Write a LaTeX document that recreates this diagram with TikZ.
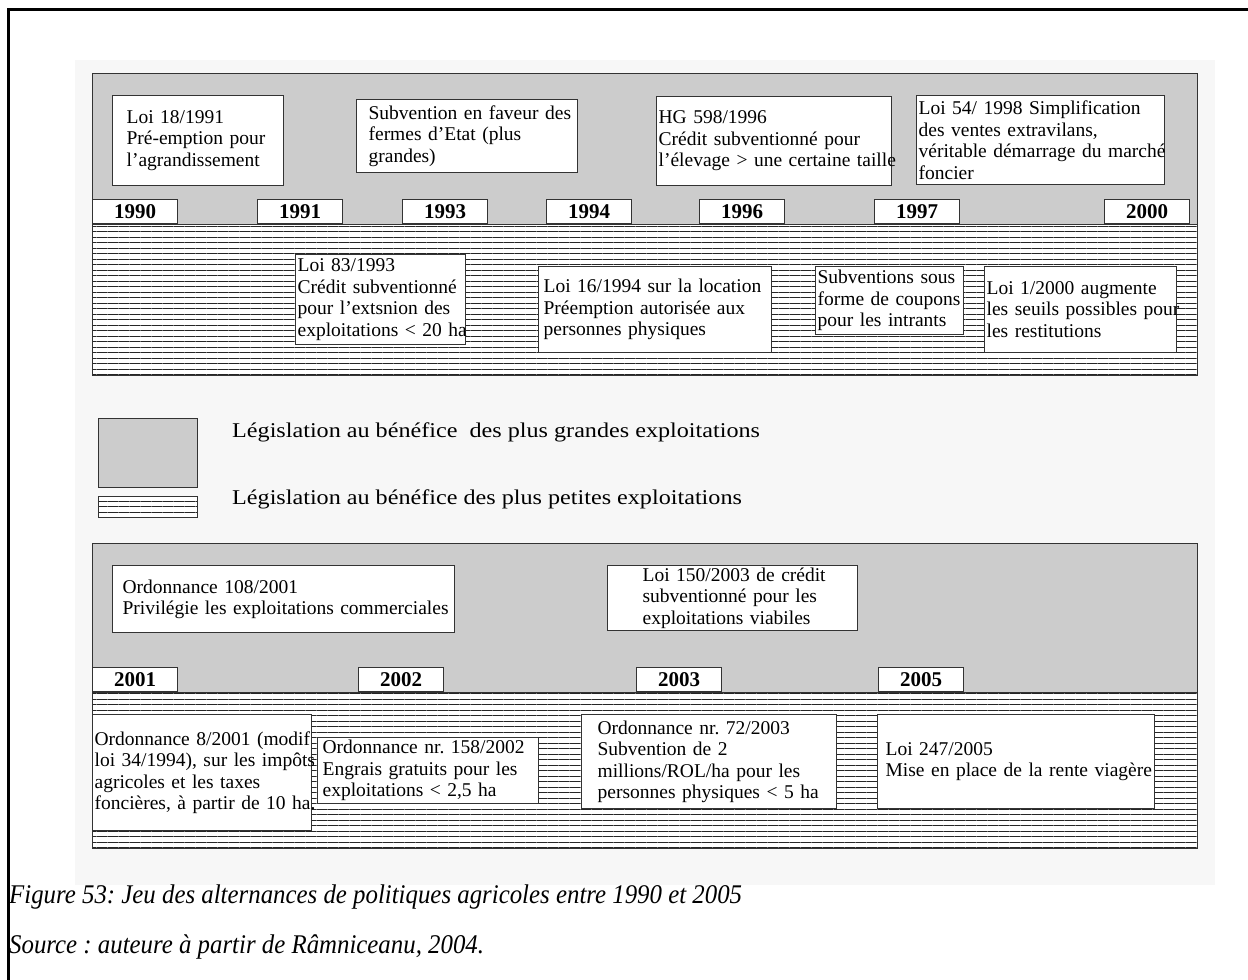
\documentclass[tikz,border=0pt]{standalone}
\usepackage{fontspec}
\setmainfont{Liberation Serif}
\usetikzlibrary{patterns.meta}
\frenchspacing
\newcommand\lawsize{\fontsize{19.5}{21.5}\selectfont}
\newcommand\keysize{\fontsize{21}{24}\selectfont}
\newcommand\yearsize{\fontsize{21}{24}\selectfont\bfseries}
\tikzset{
  edge/.style={draw=black!80, line width=1.2pt},
  hatch/.style={preaction={fill=white}, pattern={Lines[angle=0,distance=5.5pt,line width=1pt]}, pattern color=black!85},
  greyband/.style={edge, fill=black!20, anchor=north west, minimum width=1105, inner sep=0pt},
  lineband/.style={edge, hatch, anchor=north west, minimum width=1105, inner sep=0pt},
  yearbox/.style={edge, fill=white, font=\yearsize, anchor=south west, minimum width=85, minimum height=24, inner sep=0pt},
  lawbox/.style={edge, fill=white, anchor=north west, font=\lawsize, align=left, inner ysep=0pt},
  keytext/.style={anchor=west, font=\keysize, inner sep=0pt}
}
\begin{document}
\begin{tikzpicture}[x=1pt, y=-1pt]
\useasboundingbox (0,0) rectangle (1248,980);
\fill[black!3] (75,60) rectangle (1215,885);
\draw[line width=3pt] (8,980) -- (8,9) -- (1248,9);

% 1990 - 2000
\node[greyband, minimum height=151] (band90g) at (92,73) {};
\node[lineband, minimum height=151] (band90h) at (92,224) {};
\node[yearbox] (y1990) at (92,224) {1990};
\node[yearbox] (y1991) at (257,224) {1991};
\node[yearbox] (y1993) at (402,224) {1993};
\node[yearbox] (y1994) at (546,224) {1994};
\node[yearbox] (y1996) at (699,224) {1996};
\node[yearbox] (y1997) at (874,224) {1997};
\node[yearbox] (y2000) at (1104,224) {2000};

\node[lawbox, inner xsep=14, text width=143, minimum height=90] (loi91) at (112,95) {Loi 18/1991\\Pré-emption pour\\l’agrandissement};
\node[lawbox, inner xsep=12, text width=197, minimum height=73] (etat) at (356,99) {\mbox{Subvention en faveur des}\\fermes d’Etat (plus\\grandes)};
\node[lawbox, inner xsep=2, text width=231, minimum height=89] (hg96) at (656,96) {HG 598/1996\\Crédit subventionné pour\\\mbox{l’élevage > une certaine taille}};
\node[lawbox, inner xsep=2, text width=244, minimum height=89] (loi98) at (916,95) {Loi 54/ 1998 Simplification\\des ventes extravilans,\\\mbox{véritable démarrage du marché}\\foncier};

\node[lawbox, inner xsep=2, text width=166, minimum height=90] (loi93) at (295,254) {Loi 83/1993\\Crédit subventionné\\pour l’extsnion des\\\mbox{exploitations < 20 ha}};
\node[lawbox, inner xsep=5, text width=223, minimum height=86] (loi94) at (538,266) {\mbox{Loi 16/1994 sur la location}\\Préemption autorisée aux\\personnes physiques};
\node[lawbox, inner xsep=2, text width=144, minimum height=68] (coupons) at (815,266) {Subventions sous\\\mbox{forme de coupons}\\pour les intrants};
\node[lawbox, inner xsep=2, text width=188, minimum height=86] (loi2000) at (984,266) {Loi 1/2000 augmente\\\mbox{les seuils possibles pour}\\les restitutions};

% legende
\node[edge, fill=black!20, anchor=north west, minimum width=99, minimum height=69, inner sep=0pt] (keyg) at (98,418) {};
\node[edge, hatch, anchor=north west, minimum width=99, minimum height=21, inner sep=0pt] (keyh) at (98,496) {};
\node[keytext] (keygt) at (232,432) {\scalebox{1.15}[1]{Législation au bénéfice\ \ des plus grandes exploitations}};
\node[keytext] (keyht) at (232,499) {\scalebox{1.15}[1]{Législation au bénéfice des plus petites exploitations}};

% 2001 - 2005
\node[greyband, minimum height=149] (band01g) at (92,543) {};
\node[lineband, minimum height=156] (band01h) at (92,692) {};
\node[yearbox] (y2001) at (92,692) {2001};
\node[yearbox] (y2002) at (358,692) {2002};
\node[yearbox] (y2003) at (636,692) {2003};
\node[yearbox] (y2005) at (878,692) {2005};

\node[lawbox, inner xsep=10, text width=322, minimum height=67] (ord108) at (112,565) {Ordonnance 108/2001\\\mbox{Privilégie les exploitations commerciales}};
\node[lawbox, inner xsep=35, text width=180, minimum height=65] (loi150) at (607,565) {\mbox{Loi 150/2003 de crédit}\\\mbox{subventionné pour les}\\\mbox{exploitations viabiles}};

\node[lawbox, inner xsep=2, text width=215, minimum height=116] (ord8) at (92,714) {\mbox{Ordonnance 8/2001 (modif}\\\mbox{loi 34/1994), sur les impôts}\\agricoles et les taxes\\\mbox{foncières, à partir de 10 ha.}};
\node[lawbox, inner xsep=5, text width=211, minimum height=66] (ord158) at (317,737) {\mbox{Ordonnance nr. 158/2002}\\Engrais gratuits pour les\\exploitations < 2,5 ha};
\node[lawbox, inner xsep=16, text width=223, minimum height=94] (ord72) at (581,714) {Ordonnance nr. 72/2003\\Subvention de 2\\millions/ROL/ha pour les\\\mbox{personnes physiques < 5 ha}};
\node[lawbox, inner xsep=8, text width=261, minimum height=94] (loi247) at (877,714) {Loi 247/2005\\\mbox{Mise en place de la rente viagère}};

% legende de la figure
\node[anchor=west, inner sep=0pt, font=\fontsize{27}{30}\selectfont\itshape] (cap) at (9,897) {\scalebox{0.92}[1]{Figure 53: Jeu des alternances de politiques agricoles entre 1990 et 2005}};
\node[anchor=west, inner sep=0pt, font=\fontsize{27}{30}\selectfont\itshape] (src) at (9,947) {\scalebox{0.92}[1]{Source : auteure à partir de Râmniceanu, 2004.}};
\end{tikzpicture}
\end{document}
